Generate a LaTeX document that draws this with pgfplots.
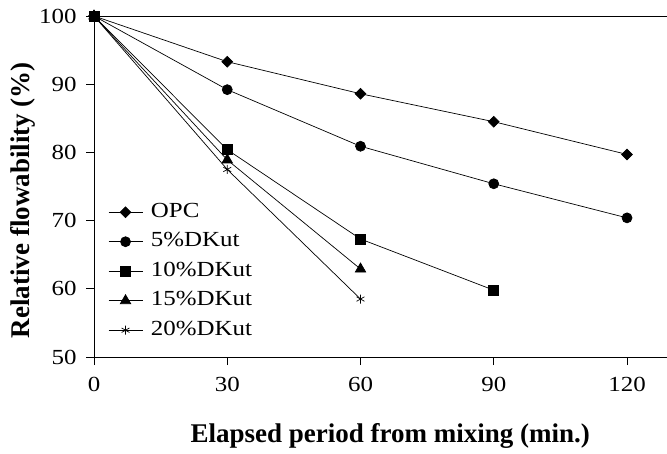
\documentclass[border=0pt]{standalone}
\usepackage{pgfplots}
\pgfplotsset{compat=1.18}
\usepackage{fontspec}
\setmainfont{Liberation Serif}
\newfontfamily\wideserif[FakeStretch=1.16]{Liberation Serif}
\begin{document}
\begin{tikzpicture}[x=1bp,y=1bp]
\begin{axis}[
  name=ax,
  scale only axis, width=573bp, height=341bp,
  xmin=0, xmax=129, ymin=50, ymax=100,
  axis x line*=bottom, axis y line*=left,
  xtick={0,30,60,90,120}, ytick={50,60,70,80,90,100},
  tick align=outside, major tick length=8bp,
  tick style={black, line width=0.7bp},
  axis line style={line width=0.7bp},
  /pgf/number format/assume math mode=true,
  ticklabel style={font=\wideserif\fontsize{21.5bp}{25bp}\selectfont},
  xticklabel style={yshift=-9bp},
  yticklabel style={xshift=-6bp},
  xlabel={\textbf{Elapsed period from mixing (min.)}},
  ylabel={\textbf{Relative flowability (\%)}},
  label style={font=\fontsize{27bp}{30bp}\selectfont},
  xlabel style={at={(axis description cs:0.517,-0.232)}, anchor=center},
  ylabel style={at={(axis description cs:-0.124,0.46)}, anchor=center},
  legend style={draw=none, fill=none, at={(0.0244,0.4545)}, anchor=north west,
    font=\wideserif\fontsize{21.5bp}{25bp}\selectfont, row sep=9.5bp, inner sep=0pt,
    nodes={inner sep=0pt, text height=15bp, text depth=5bp}},
  legend cell align=left,
  legend image code/.code={\draw[mark repeat=2,mark phase=2] plot coordinates {(0bp,0bp) (17bp,0bp) (34bp,0bp)}; \path (42bp,0bp);},
  clip=false,
]
\draw[line width=0.7bp] (rel axis cs:0,1) -- (rel axis cs:1,1);
\addplot[black, line width=0.7bp, mark=square*, mark size=3.8bp, mark options={rotate=45}] coordinates {(0,100) (30,93.3) (60,88.6) (90,84.5) (120,79.7)};
\addlegendentry{OPC}
\addplot[black, line width=0.7bp, mark=*, mark size=5bp] coordinates {(0,100) (30,89.2) (60,80.9) (90,75.4) (120,70.4)};
\addlegendentry{5\%DKut}
\addplot[black, line width=0.7bp, mark=square*, mark size=5bp] coordinates {(0,100) (30,80.4) (60,67.3) (90,59.8)};
\addlegendentry{10\%DKut}
\addplot[black, line width=0.7bp, mark=triangle*, mark size=6bp] coordinates {(0,100) (30,78.9) (60,62.9)};
\addlegendentry{15\%DKut}
\addplot[black, line width=0.7bp, mark=asterisk, mark size=4.5bp] coordinates {(0,100) (30,77.5) (60,58.5)};
\addlegendentry{20\%DKut}
\end{axis}
\pgfresetboundingbox
\path ([xshift=-94bp,yshift=-97bp]ax.south west) rectangle ([yshift=16bp]ax.north east);
\end{tikzpicture}
\end{document}
